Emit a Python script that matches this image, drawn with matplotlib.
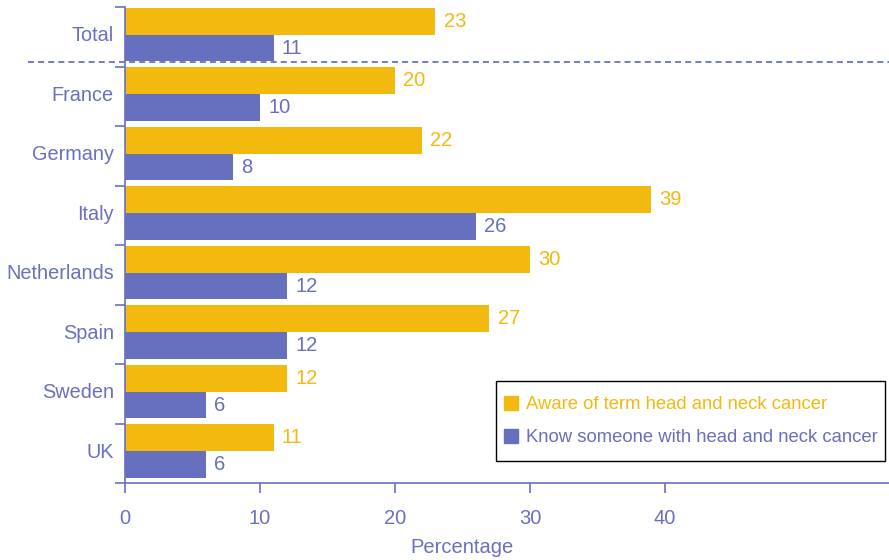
import numpy as np
import matplotlib
matplotlib.use("Agg")
from matplotlib import pyplot as plt
from matplotlib.patches import Patch, Rectangle

plt.rcParams['font.family'] = ['Liberation Sans', 'DejaVu Sans']

countries = ["Total", "France", "Germany", "Italy", "Netherlands", "Spain", "Sweden", "UK"]
aware = [23, 20, 22, 39, 30, 27, 12, 11]
know = [11, 10, 8, 26, 12, 12, 6, 6]
series_names = ["Aware of term head and neck cancer",
                "Know someone with head and neck cancer"]

yellow = '#F2B90F'
blue = '#676FBF'
txt = '#6A70BE'

W, H = 889, 560
fig = plt.figure(figsize=(W/100, H/100), dpi=100)
ax = fig.add_axes([125/W, 1 - 483/H, 1 - 125/W, (483 - 7)/H])

y = np.arange(len(countries))
h = 0.45
ax.barh(y - 0.26, aware, height=h, color=yellow, linewidth=0)
ax.barh(y + 0.19, know, height=h, color=blue, linewidth=0)

for i in range(len(countries)):
    ax.text(aware[i] + 0.6, y[i] - 0.26, str(aware[i]), color=yellow,
            fontsize=14.5, va='center', ha='left')
    ax.text(know[i] + 0.6, y[i] + 0.19, str(know[i]), color=blue,
            fontsize=14.5, va='center', ha='left')

ax.set_xlim(0, (W - 125)/13.5)
ax.set_ylim(len(countries) - 0.5, -0.5)

# separator under the Total row, running past the axis to the left
ax.axhline(0.42, xmin=-0.127, xmax=1, color=txt, linestyle=(0, (3.3, 2.3)),
           linewidth=1.3, clip_on=False)

for s in ['top', 'right']:
    ax.spines[s].set_visible(False)
for s in ['left', 'bottom']:
    ax.spines[s].set_color(txt)
    ax.spines[s].set_linewidth(1.2)

ax.set_xticks([0, 10, 20, 30, 40])
ax.tick_params(axis='x', colors=txt, labelsize=14.5, length=7, width=1.2, pad=12)

# group boundaries get the tick marks, names sit in between
ax.set_yticks(np.arange(len(countries) + 1) - 0.5)
ax.set_yticklabels([])
ax.set_yticks(y - 0.05, minor=True)
ax.set_yticklabels(countries, minor=True)
ax.tick_params(axis='y', which='major', colors=txt, length=7, width=1.2)
ax.tick_params(axis='y', which='minor', colors=txt, length=0, labelsize=14.3, pad=8)

ax.set_xlabel("Percentage", color=txt, fontsize=14.5)
ax.xaxis.set_label_coords((462 - 125)/(W - 125), -0.115)

# legend box drawn by hand so the padding can stay tight
box = (496, 381, 885, 461)
fig.patches.append(Rectangle((box[0]/W, 1 - box[3]/H), (box[2] - box[0])/W,
                             (box[3] - box[1])/H, transform=fig.transFigure,
                             facecolor='white', edgecolor='black', linewidth=1.0,
                             zorder=5))
handles = [Patch(color=yellow), Patch(color=blue)]
leg = fig.legend(handles, series_names, loc='center',
                 bbox_to_anchor=((box[0] + box[2])/2/W, 1 - (box[1] + box[3])/2/H),
                 fontsize=13.3, frameon=False,
                 handlelength=0.8, handleheight=0.8, handletextpad=0.4,
                 borderpad=0.2, labelspacing=0.85)
leg.set_zorder(6)
for t, c in zip(leg.get_texts(), [yellow, blue]):
    t.set_color(c)

fig.savefig("out.png", dpi=100)
